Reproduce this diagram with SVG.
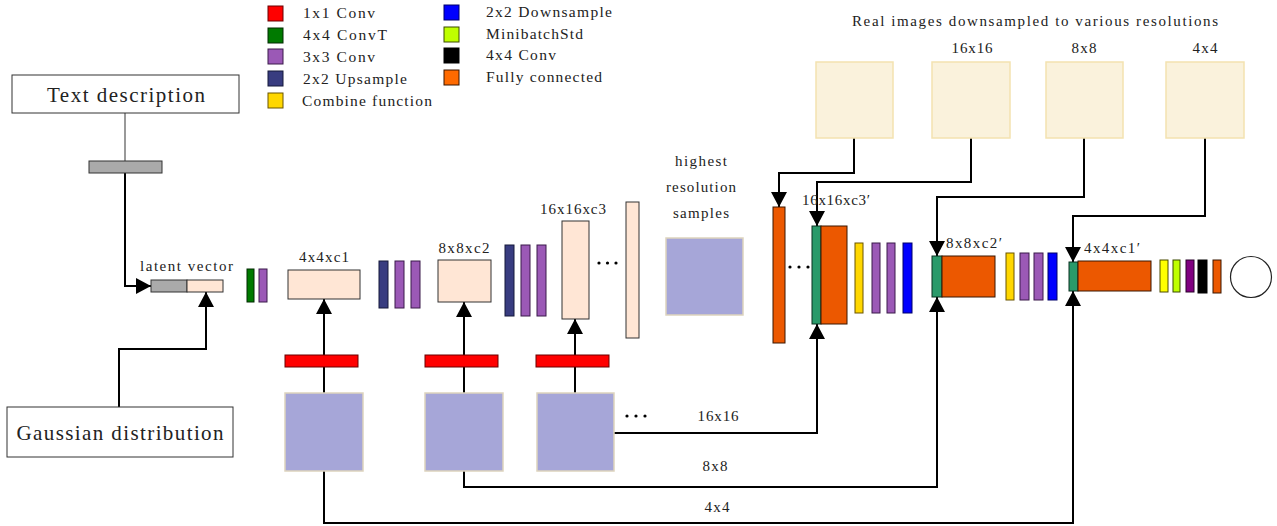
<svg xmlns="http://www.w3.org/2000/svg" width="1277" height="526" viewBox="0 0 1277 526">
<defs>
<marker id="arr" markerUnits="userSpaceOnUse" markerWidth="16" markerHeight="16" refX="15" refY="8" orient="auto">
<path d="M0,0 L15,8 L0,16 z" fill="#000"/>
</marker>
<style>
text{font-family:"Liberation Serif","DejaVu Serif",serif;fill:#222;}
.lg{font-size:15.5px;}
.lb{font-size:15px;}
.big{font-size:21px;}
.c{text-anchor:middle;}
.ln{fill:none;stroke:#000;stroke-width:2;}
.ar{fill:none;stroke:#000;stroke-width:2;marker-end:url(#arr);}
.red{fill:#ff0000;stroke:#6a0000;stroke-width:1;}
.grn{fill:#007a00;stroke:#002a00;stroke-width:1;}
.pur{fill:#9b59b6;stroke:#3a1a4a;stroke-width:1;}
.nav{fill:#383c80;stroke:#15183a;stroke-width:1;}
.yel{fill:#ffd700;stroke:#6a5500;stroke-width:1;}
.blu{fill:#0000ff;stroke:#00006a;stroke-width:1;}
.lim{fill:#bfff00;stroke:#3a4a00;stroke-width:1;}
.blk{fill:#000;stroke:#000;stroke-width:1;}
.org{fill:#ec5800;stroke:#3a1600;stroke-width:1;}
.orgL{fill:#ff6a00;stroke:#3a1600;stroke-width:1;}
.pch{fill:#ffe6d5;stroke:#333;stroke-width:1;}
.tea{fill:#2a9a6a;stroke:#0a3020;stroke-width:1;}
.gry{fill:#aaaaaa;stroke:#333;stroke-width:1;}
.lav{fill:#a6a6d8;stroke:#ddd3bd;stroke-width:1.5;}
.real{fill:#faf2dc;stroke:#f3e2b0;stroke-width:1.5;}
.box{fill:#fff;stroke:#333;stroke-width:1;}
</style>
</defs>
<rect width="1277" height="526" fill="#fff"/>

<g id="legend">
<rect class="red" x="268" y="6" width="15" height="15"/>
<text class="lg" x="303" y="18" textLength="72" lengthAdjust="spacing">1x1 Conv</text>
<rect class="grn" x="268" y="28" width="15" height="15"/>
<text class="lg" x="303" y="40" textLength="84" lengthAdjust="spacing">4x4 ConvT</text>
<rect class="pur" x="268" y="49" width="15" height="15"/>
<text class="lg" x="303" y="62" textLength="72" lengthAdjust="spacing">3x3 Conv</text>
<rect class="nav" x="268" y="71" width="15" height="15"/>
<text class="lg" x="303" y="84" textLength="104" lengthAdjust="spacing">2x2 Upsample</text>
<rect class="yel" x="268" y="93" width="15" height="15"/>
<text class="lg" x="302" y="106" textLength="130" lengthAdjust="spacing">Combine function</text>
<rect class="blu" x="444" y="5" width="15" height="15"/>
<text class="lg" x="486" y="17" textLength="126" lengthAdjust="spacing">2x2 Downsample</text>
<rect class="lim" x="444" y="27" width="15" height="15"/>
<text class="lg" x="486" y="39" textLength="97" lengthAdjust="spacing">MinibatchStd</text>
<rect class="blk" x="444" y="48" width="15" height="15"/>
<text class="lg" x="486" y="60" textLength="70" lengthAdjust="spacing">4x4 Conv</text>
<rect class="orgL" x="444" y="70" width="15" height="15"/>
<text class="lg" x="486" y="82" textLength="116" lengthAdjust="spacing">Fully connected</text>
</g>

<g id="connectors">
<line x1="125" y1="113" x2="125" y2="161" stroke="#777" stroke-width="1.5"/>
<polyline class="ar" points="125,173 125,286 151,286"/>
<polyline class="ar" points="119,407 119,349 206,349 206,292"/>
<line class="ar" x1="324" y1="393" x2="324" y2="299"/>
<line class="ar" x1="464" y1="393" x2="464" y2="302"/>
<line class="ar" x1="575" y1="393" x2="575" y2="319"/>
<polyline class="ar" points="614,433 817,433 817,324"/>
<polyline class="ar" points="464,471 464,487 937,487 937,297"/>
<polyline class="ar" points="324,471 324,523 1073,523 1073,291"/>
<polyline class="ar" points="854,138 854,173 779,173 779,207"/>
<polyline class="ar" points="971,138 971,182 817,182 817,226"/>
<polyline class="ar" points="1084,138 1084,197 937,197 937,256"/>
<polyline class="ar" points="1205,138 1205,216 1073,216 1073,262"/>
</g>

<g id="text-description">
<rect class="box" x="12" y="75" width="227" height="38"/>
<text class="big c" x="126" y="102" textLength="158" lengthAdjust="spacing">Text description</text>
</g>
<g id="text-embedding">
<rect class="gry" x="89" y="161" width="73" height="12"/>
</g>
<g id="gaussian">
<rect class="box" x="7" y="407" width="226" height="50"/>
<text class="big c" x="120" y="440" textLength="207" lengthAdjust="spacing">Gaussian distribution</text>
</g>
<g id="latent-vector">
<rect class="gry" x="151" y="280" width="36" height="12"/>
<rect class="pch" x="187" y="280" width="36" height="12"/>
<text class="lb" x="140" y="271" textLength="93" lengthAdjust="spacing">latent vector</text>
</g>

<g id="gen-block0">
<rect class="grn" x="247" y="269" width="7" height="33"/>
<rect class="pur" x="259" y="269" width="8" height="33"/>
</g>
<g id="feat-4x4">
<rect class="pch" x="288" y="270" width="72" height="29"/>
<text class="lb c" x="324" y="262" textLength="50" lengthAdjust="spacing">4x4xc1</text>
</g>
<g id="gen-block1">
<rect class="nav" x="379" y="261" width="9" height="47"/>
<rect class="pur" x="395" y="261" width="9" height="47"/>
<rect class="pur" x="411" y="261" width="9" height="47"/>
</g>
<g id="feat-8x8">
<rect class="pch" x="438" y="260" width="53" height="42"/>
<text class="lb c" x="464" y="253" textLength="51" lengthAdjust="spacing">8x8xc2</text>
</g>
<g id="gen-block2">
<rect class="nav" x="505" y="245" width="9" height="71"/>
<rect class="pur" x="521" y="245" width="9" height="71"/>
<rect class="pur" x="537" y="245" width="9" height="71"/>
</g>
<g id="feat-16x16">
<rect class="pch" x="562" y="221" width="27" height="98"/>
<text class="lb c" x="573" y="214" textLength="66" lengthAdjust="spacing">16x16xc3</text>
</g>
<g id="dots-gen">
<circle cx="599" cy="263" r="1.6" fill="#000"/>
<circle cx="607.5" cy="263" r="1.6" fill="#000"/>
<circle cx="616" cy="263" r="1.6" fill="#000"/>
</g>
<g id="feat-highest">
<rect class="pch" x="626" y="202" width="13" height="136"/>
</g>
<g id="highest-samples">
<text class="lb c" x="701" y="166" textLength="52" lengthAdjust="spacing">highest</text>
<text class="lb c" x="701" y="192" textLength="70" lengthAdjust="spacing">resolution</text>
<text class="lb c" x="701" y="218" textLength="56" lengthAdjust="spacing">samples</text>
<rect class="lav" x="666" y="238" width="77" height="77"/>
</g>

<g id="rgb-4x4">
<rect class="red" x="285" y="355" width="73" height="12"/>
<rect class="lav" x="285" y="393" width="78" height="78"/>
</g>
<g id="rgb-8x8">
<rect class="red" x="425" y="355" width="73" height="12"/>
<rect class="lav" x="425" y="393" width="78" height="78"/>
</g>
<g id="rgb-16x16">
<rect class="red" x="536" y="355" width="73" height="12"/>
<rect class="lav" x="537" y="393" width="77" height="78"/>
</g>
<g id="dots-rgb">
<circle cx="627" cy="416" r="1.6" fill="#000"/>
<circle cx="636" cy="416" r="1.6" fill="#000"/>
<circle cx="645" cy="416" r="1.6" fill="#000"/>
</g>
<g id="labels-bottom">
<text class="lb c" x="718" y="421" textLength="41" lengthAdjust="spacing">16x16</text>
<text class="lb c" x="715" y="471" textLength="25" lengthAdjust="spacing">8x8</text>
<text class="lb c" x="717" y="512" textLength="25" lengthAdjust="spacing">4x4</text>
</g>

<g id="real-images">
<text class="lb" x="852" y="26" textLength="366" lengthAdjust="spacing">Real images downsampled to various resolutions</text>
<rect class="real" x="816" y="62" width="77" height="76"/>
<rect class="real" x="932" y="62" width="78" height="76"/>
<text class="lb c" x="972" y="53" textLength="41" lengthAdjust="spacing">16x16</text>
<rect class="real" x="1046" y="62" width="77" height="76"/>
<text class="lb c" x="1084" y="53" textLength="25" lengthAdjust="spacing">8x8</text>
<rect class="real" x="1166" y="62" width="78" height="76"/>
<text class="lb c" x="1205" y="53" textLength="25" lengthAdjust="spacing">4x4</text>
</g>

<g id="disc-fromrgb-high">
<rect class="org" x="773" y="207" width="12" height="136"/>
</g>
<g id="dots-disc">
<circle cx="790" cy="267" r="1.6" fill="#000"/>
<circle cx="799" cy="267" r="1.6" fill="#000"/>
<circle cx="808" cy="267" r="1.6" fill="#000"/>
</g>
<g id="disc-16x16">
<rect class="tea" x="812" y="226" width="9" height="98"/>
<rect class="org" x="821" y="226" width="26" height="98"/>
<text class="lb" x="802" y="205" textLength="68" lengthAdjust="spacing">16x16xc3′</text>
</g>
<g id="disc-block16">
<rect class="yel" x="855" y="243" width="8" height="70"/>
<rect class="pur" x="872" y="243" width="8" height="70"/>
<rect class="pur" x="887" y="243" width="8" height="70"/>
<rect class="blu" x="903" y="243" width="9" height="70"/>
</g>
<g id="disc-8x8">
<rect class="tea" x="932" y="256" width="10" height="41"/>
<rect class="org" x="942" y="256" width="53" height="41"/>
<text class="lb" x="946" y="248" textLength="56" lengthAdjust="spacing">8x8xc2′</text>
</g>
<g id="disc-block8">
<rect class="yel" x="1006" y="253" width="8" height="47"/>
<rect class="pur" x="1020" y="253" width="9" height="47"/>
<rect class="pur" x="1034" y="253" width="9" height="47"/>
<rect class="blu" x="1048" y="253" width="9" height="47"/>
</g>
<g id="disc-4x4">
<rect class="tea" x="1069" y="262" width="9" height="29"/>
<rect class="org" x="1078" y="261" width="73" height="30"/>
<text class="lb" x="1084" y="253" textLength="56" lengthAdjust="spacing">4x4xc1′</text>
</g>
<g id="disc-final">
<rect x="1160" y="260" width="8" height="32" fill="#ffff00" stroke="#4a4a00" stroke-width="1"/>
<rect class="lim" x="1173" y="260" width="7" height="32"/>
<rect x="1186" y="260" width="8" height="32" fill="#800080" stroke="#2a002a" stroke-width="1"/>
<rect class="blk" x="1198" y="260" width="9" height="33"/>
<rect class="org" x="1213" y="260" width="8" height="33"/>
</g>
<g id="output">
<circle cx="1251" cy="277" r="20.5" fill="#fff" stroke="#222" stroke-width="1.2"/>
</g>
</svg>
